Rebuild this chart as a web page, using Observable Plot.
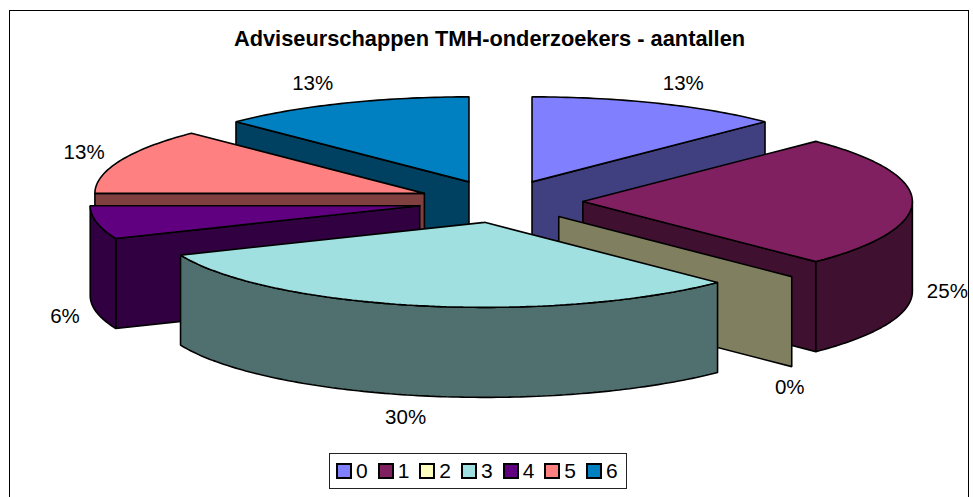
<!DOCTYPE html>
<html>
<head>
<meta charset="utf-8">
<script src="https://cdn.jsdelivr.net/npm/d3@7"></script>
<script src="https://cdn.jsdelivr.net/npm/@observablehq/plot@0.6"></script>
<style>
  html, body { margin: 0; padding: 0; background: #fff; overflow: hidden; }
  #page { position: relative; width: 973px; height: 497px; overflow: hidden; font-family: "Liberation Sans", Arial, sans-serif; color: #000; }
  #frame { position: absolute; left: 9px; top: 10px; width: 960px; height: 560px; border: 1.5px solid #000; box-sizing: border-box; }
  #title { position: absolute; left: 9px; width: 961px; top: 27px; text-align: center; font-weight: bold; font-size: 21.8px; line-height: 24px; }
  #chart { position: absolute; left: 0; top: 0; }
  #legend { position: absolute; left: 329px; top: 453px; width: 298px; height: 36px; border: 1.5px solid #222; box-sizing: border-box; display: flex; align-items: center; padding-left: 6px; font-size: 21px; }
  .item { width: 41.67px; display: flex; align-items: center; flex: none; }
  .swatch { width: 16px; height: 16px; border: 2px solid #000; box-sizing: border-box; margin-right: 4px; flex: none; }
</style>
</head>
<body>
<div id="page">
  <div id="frame"></div>
  <div id="title"></div>
  <div id="chart"></div>
  <div id="legend"></div>
</div>
<script>
// Data
const chartTitle = "Adviseurschappen TMH-onderzoekers - aantallen";
const categories = ["0", "1", "2", "3", "4", "5", "6"];
const shares = [12.5, 25, 0, 31.2, 6.3, 12.5, 12.5];       // slice sizes as drawn, percent
const percentLabels = ["13%", "25%", "0%", "30%", "6%", "13%", "13%"];
const sliceColors = ["#8080FF", "#802060", "#FFFFC0", "#A0E0E0", "#600080", "#FF8080", "#0080C0"];

// Projection of the tilted, exploded pie
const cx = 500, cy = 201, rx = 329.5, ry = 85, depth = 90, explode = 0.25;
const paintOrder = [6, 0, 5, 4, 1, 2, 3];
const labelShift = [0, -2, -2, 4, 5, 0, -5];   // layout only: horizontal fine-tuning of the percent labels

const rad = (deg) => deg * Math.PI / 180;
const shade = (c) => { const k = d3.rgb(c); return d3.rgb(k.r / 2, k.g / 2, k.b / 2).formatHex(); };

let running = 0;
const slices = shares.map((share, i) => {
  const start = running;
  running += share * 3.6;
  return {i, start, end: running, mid: (start + running) / 2, color: sliceColors[i], side: shade(sliceColors[i]), label: percentLabels[i], share};
});

const apex = (s) => ({
  x: cx + explode * rx * Math.sin(rad(s.mid)),
  y: cy - explode * ry * Math.cos(rad(s.mid))
});
const rim = (s, deg, drop = 0) => {
  const a = apex(s);
  return {x: a.x + rx * Math.sin(rad(deg)), y: a.y - ry * Math.cos(rad(deg)) + drop};
};
const arc = (s, from, to, drop = 0) => {
  const n = Math.max(1, Math.ceil(Math.abs(to - from)));
  return d3.range(n + 1).map((k) => rim(s, from + (to - from) * k / n, drop));
};
const cut = (s, deg) => {
  const a = apex(s);
  const p = [a, rim(s, deg), rim(s, deg, depth), {x: a.x, y: a.y + depth}];
  return [...p, p[0]];
};

const faces = [];
for (const i of paintOrder) {
  const s = slices[i];
  const a = apex(s);
  if (s.share === 0) {
    faces.push({points: cut(s, s.start), fill: s.side});
    continue;
  }
  // radial cut faces turned toward the viewer
  if (s.end > 0 && s.end < 180) faces.push({points: cut(s, s.end), fill: s.side});
  if (s.start > 180 && s.start < 360) faces.push({points: cut(s, s.start), fill: s.side});
  // outer wall: only the front half of the rim
  const f0 = Math.max(s.start, 90), f1 = Math.min(s.end, 270);
  if (f1 > f0) {
    const wall = [...arc(s, f0, f1), ...arc(s, f1, f0, depth)];
    faces.push({points: [...wall, wall[0]], fill: s.side});
  }
  // top
  const top = [a, ...arc(s, s.start, s.end)];
  faces.push({points: [...top, a], fill: s.color});
}

const labelRows = slices.map((s) => {
  const sn = Math.sin(rad(s.mid)), cs = Math.cos(rad(s.mid));
  const p = rim(s, s.mid, cs < 0.1 ? depth : 0);
  const shift = labelShift[s.i];
  return s.share === 0
    ? {x: p.x + shift, y: p.y + 21, text: s.label}
    : {x: p.x + shift + 37 * Math.sign(sn) * Math.pow(Math.abs(sn), 0.4), y: p.y - 22 * cs, text: s.label};
});

const plot = Plot.plot({
  width: 973,
  height: 497,
  margin: 0,
  x: {domain: [0, 973], range: [0, 973], axis: null},
  y: {domain: [0, 497], range: [0, 497], axis: null},
  style: {background: "transparent", overflow: "visible"},
  marks: [
    ...faces.map((f) => Plot.line(f.points, {
      x: "x", y: "y", fill: f.fill, stroke: "#000", strokeWidth: 1.6, strokeLinejoin: "miter", curve: "linear"
    })),
    Plot.text(labelRows, {
      x: "x", y: "y", text: "text", fontSize: 20.5, fontFamily: "Liberation Sans, Arial, sans-serif",
      fill: "#000", textAnchor: "middle", lineAnchor: "middle"
    })
  ]
});
document.getElementById("chart").appendChild(plot);
document.getElementById("title").textContent = chartTitle;

const legend = document.getElementById("legend");
categories.forEach((c, i) => {
  const item = document.createElement("div");
  item.className = "item";
  const sw = document.createElement("span");
  sw.className = "swatch";
  sw.style.background = sliceColors[i];
  const t = document.createElement("span");
  t.textContent = c;
  item.append(sw, t);
  legend.appendChild(item);
});
</script>
</body>
</html>
